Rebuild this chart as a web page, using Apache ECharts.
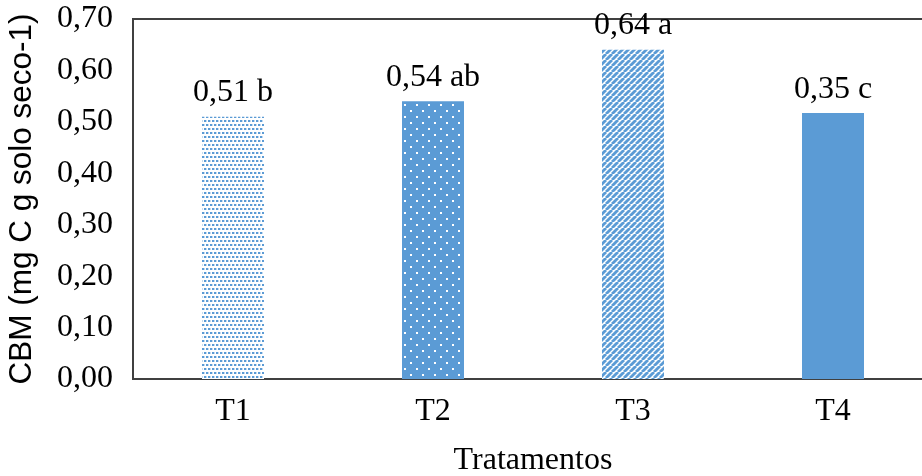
<!DOCTYPE html>
<html>
<head>
<meta charset="utf-8">
<script src="https://cdn.jsdelivr.net/npm/echarts@6/dist/echarts.min.js"></script>
<style>
html,body{margin:0;padding:0;background:#fff;}
#chart{width:922px;height:476px;}
</style>
</head>
<body>
<div id="chart"></div>
<script>
var categories = ['T1', 'T2', 'T3', 'T4'];
var values = [0.51, 0.54, 0.64, 0.517];
var valueLabels = ['0,51 b', '0,54 ab', '0,64 a', '0,35 c'];
var yTickLabels = ['0,00', '0,10', '0,20', '0,30', '0,40', '0,50', '0,60', '0,70'];
var yAxisTitle = 'CBM (mg C g solo seco-1)';
var xAxisTitle = 'Tratamentos';

var BLUE = '#5B9BD5';

function makeCanvas(w, h) {
  var c = document.createElement('canvas');
  c.width = w; c.height = h;
  return c;
}
// T1: light dotted pattern (blue dots on white)
function patternLightDots() {
  var c = makeCanvas(8, 8), g = c.getContext('2d');
  g.fillStyle = '#ffffff'; g.fillRect(0, 0, 8, 8);
  g.fillStyle = BLUE;
  g.fillRect(0, 0, 2, 2); g.fillRect(4, 0, 2, 2);
  g.fillRect(2, 4, 2, 2); g.fillRect(6, 4, 2, 2);
  g.fillStyle = 'rgba(91,155,213,0.35)';
  g.fillRect(2, 0, 1, 2); g.fillRect(6, 0, 1, 2);
  g.fillRect(0, 4, 1, 2); g.fillRect(4, 4, 1, 2);
  return c;
}
// T2: blue with small white dots
function patternDarkDots() {
  var c = makeCanvas(12, 12), g = c.getContext('2d');
  g.fillStyle = BLUE; g.fillRect(0, 0, 12, 12);
  g.fillStyle = '#ffffff';
  g.fillRect(2, 2, 2, 2);
  g.fillRect(8, 8, 2, 2);
  return c;
}
// T3: diagonal stripes
function patternStripes() {
  var s = 6;
  var c = makeCanvas(s, s), g = c.getContext('2d');
  g.fillStyle = '#ffffff'; g.fillRect(0, 0, s, s);
  g.strokeStyle = BLUE; g.lineWidth = 2.8;
  for (var k = -1; k <= 1; k++) {
    g.beginPath();
    g.moveTo(k * s, s);
    g.lineTo(k * s + s, 0);
    g.stroke();
  }
  return c;
}
var fills = [
  {image: patternLightDots(), repeat: 'repeat'},
  {image: patternDarkDots(), repeat: 'repeat'},
  {image: patternStripes(), repeat: 'repeat'},
  BLUE
];

var seriesData = values.map(function (v, i) {
  return {
    value: v,
    itemStyle: {color: fills[i]},
    label: {formatter: valueLabels[i]}
  };
});

var chart = echarts.init(document.getElementById('chart'), null, {renderer: 'canvas'});
chart.setOption({
  animation: false,
  backgroundColor: '#ffffff',
  grid: {
    left: 133, top: 19, width: 800, height: 360,
    containLabel: false,
    outerBoundsMode: 'none',
    show: true, borderColor: '#404040', borderWidth: 2, backgroundColor: 'transparent'
  },
  xAxis: {
    type: 'category',
    data: categories,
    name: xAxisTitle,
    nameLocation: 'middle',
    nameGap: 66,
    nameTextStyle: {fontFamily: 'Liberation Serif', fontSize: 32, color: '#000'},
    axisLine: {show: true, lineStyle: {color: '#404040', width: 2}},
    axisTick: {show: false},
    axisLabel: {fontFamily: 'Liberation Serif', fontSize: 32, color: '#000', margin: 17},
    splitLine: {show: false}
  },
  yAxis: {
    type: 'value',
    min: 0, max: 0.7, interval: 0.1,
    name: yAxisTitle,
    nameLocation: 'middle',
    nameGap: 95,
    nameTextStyle: {fontFamily: 'Liberation Sans', fontSize: 31.5, color: '#000'},
    axisLine: {show: true, lineStyle: {color: '#404040', width: 2}},
    axisTick: {show: false},
    splitLine: {show: false},
    axisLabel: {
      fontFamily: 'Liberation Serif', fontSize: 32, color: '#000', margin: 20,
      formatter: function (v) { return yTickLabels[Math.round(v * 10)]; }
    }
  },
  series: [{
    type: 'bar',
    data: seriesData,
    barWidth: 62,
    label: {
      show: true, position: 'top', distance: 8,
      fontFamily: 'Liberation Serif', fontSize: 32, color: '#000'
    }
  }]
});
</script>
</body>
</html>
